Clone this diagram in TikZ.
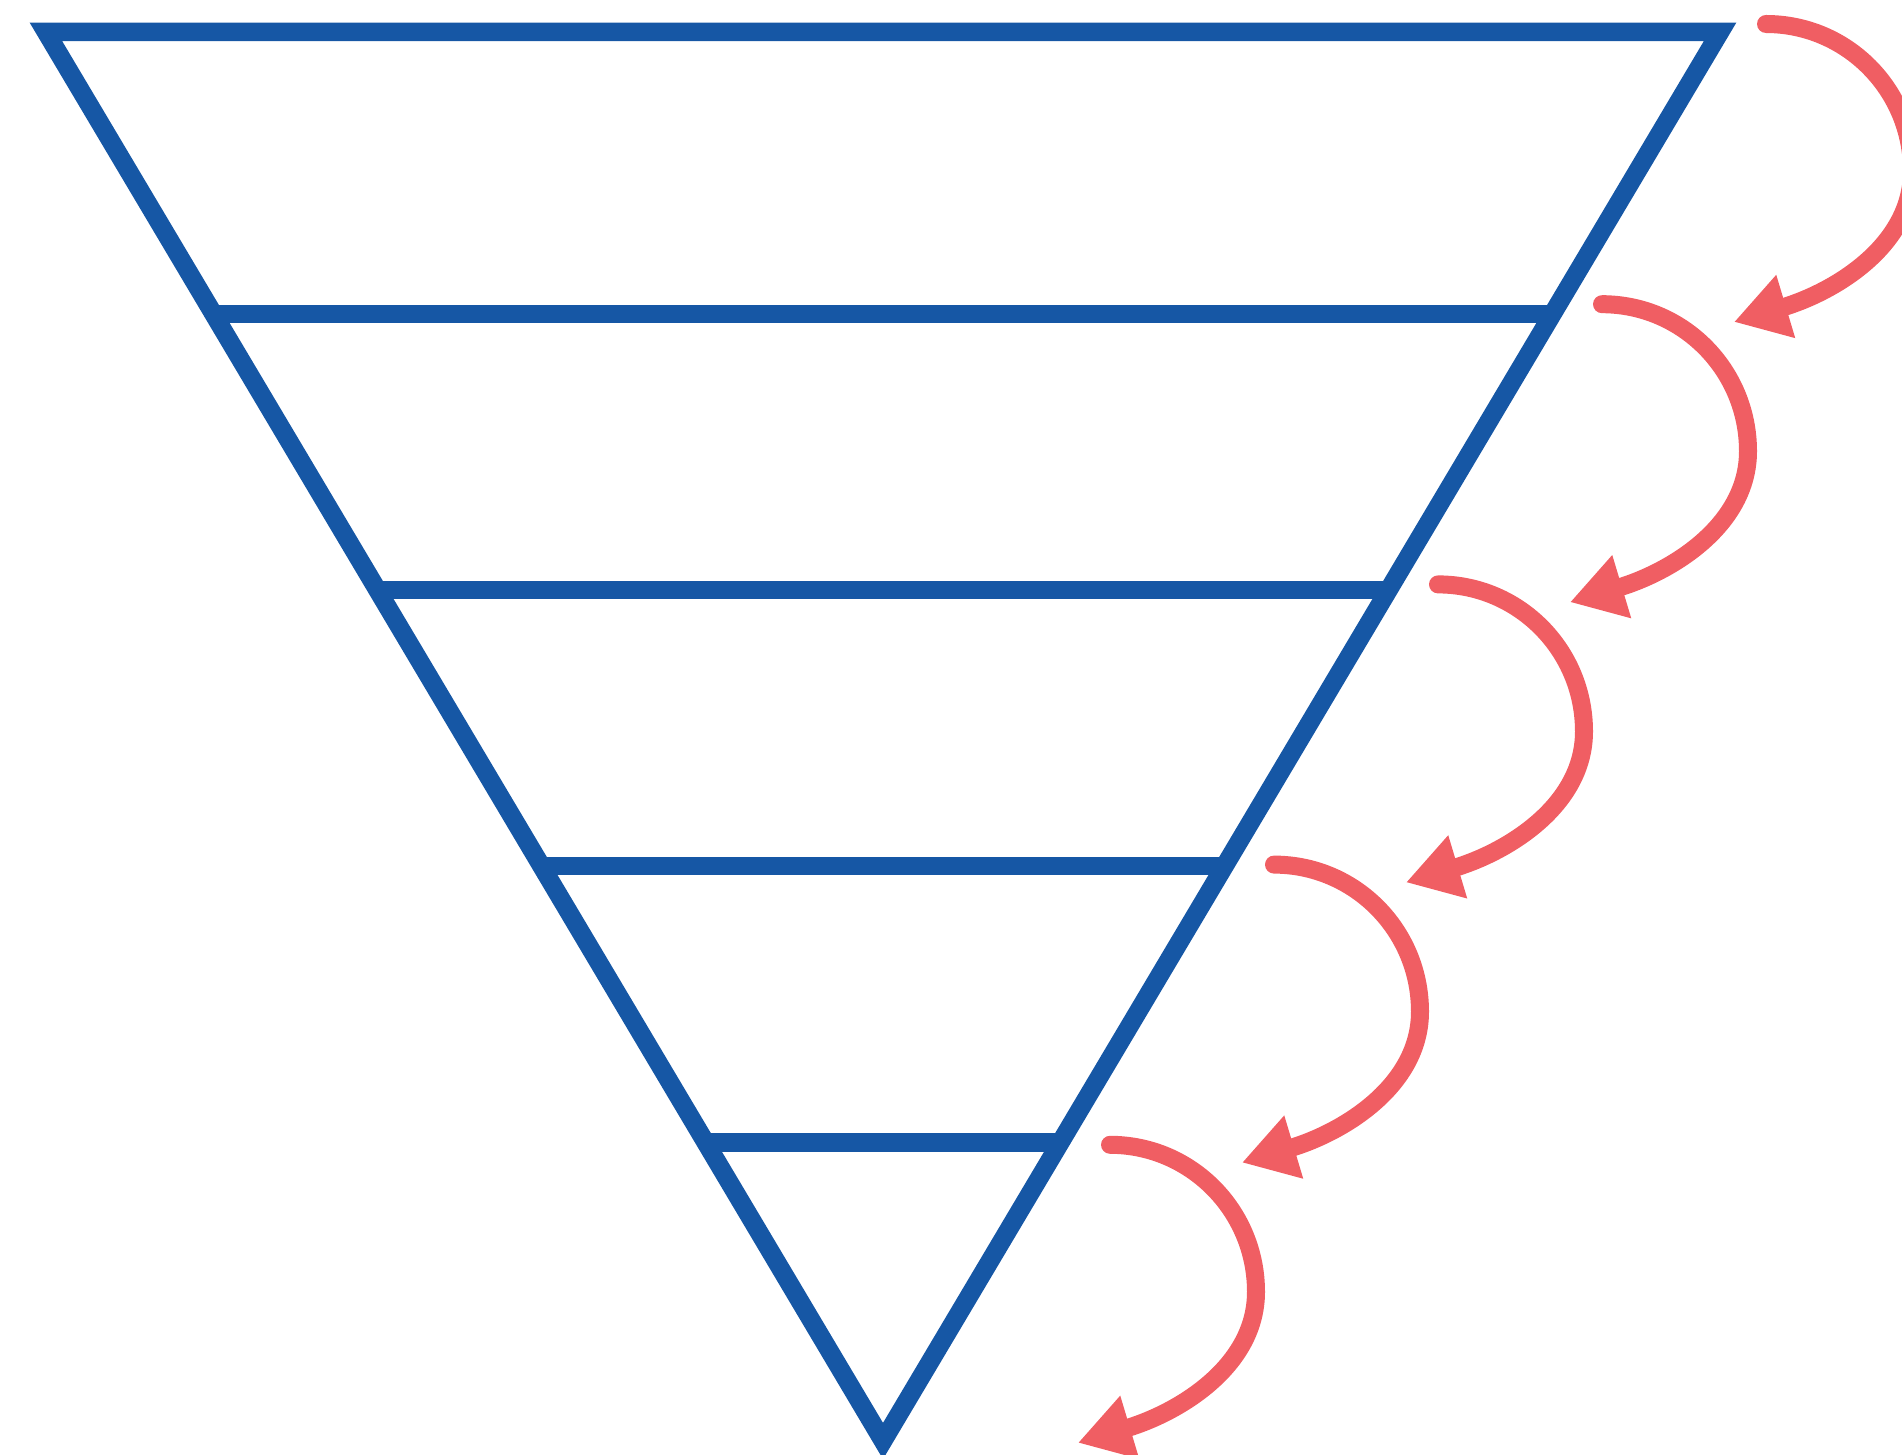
\documentclass[tikz,border=0pt]{standalone}
\usetikzlibrary{arrows.meta,calc}
\definecolor{funnelblue}{RGB}{22,87,165}
\definecolor{flowred}{RGB}{240,94,99}
\begin{document}
\begin{tikzpicture}[x=.01cm,y=-.01cm,
funnel/.style={funnelblue,line width=.185cm},
flow/.style={flowred,line width=.18cm,line cap=round,-{Triangle[length=.54cm,width=.62cm]}}]
\useasboundingbox(0,0)rectangle(1902,1455);\clip(0,0)rectangle(1902,1455);
\coordinate(tl)at(46,32);\coordinate(tr)at(1720,32);\coordinate(bt)at(883,1441);
\draw[funnel](tl)--(tr)--(bt)--cycle;
\foreach \f in {.2,.396,.592,.788}\draw[funnel]($(tl)!\f!(bt)$)--($(tr)!\f!(bt)$);
\foreach \i in {0,...,4}{
\coordinate(s\i)at({1766-164*\i},{24+280.2*\i});
\coordinate(r\i)at({1912-164*\i},{171+280.2*\i});
\coordinate(e\i)at({1734-164*\i},{322+280.2*\i});
\draw[flow](s\i)..controls +(81,0) and +(0,-81)..(r\i)..controls +(0,75) and +(100,-30)..(e\i);}
\end{tikzpicture}
\end{document}
